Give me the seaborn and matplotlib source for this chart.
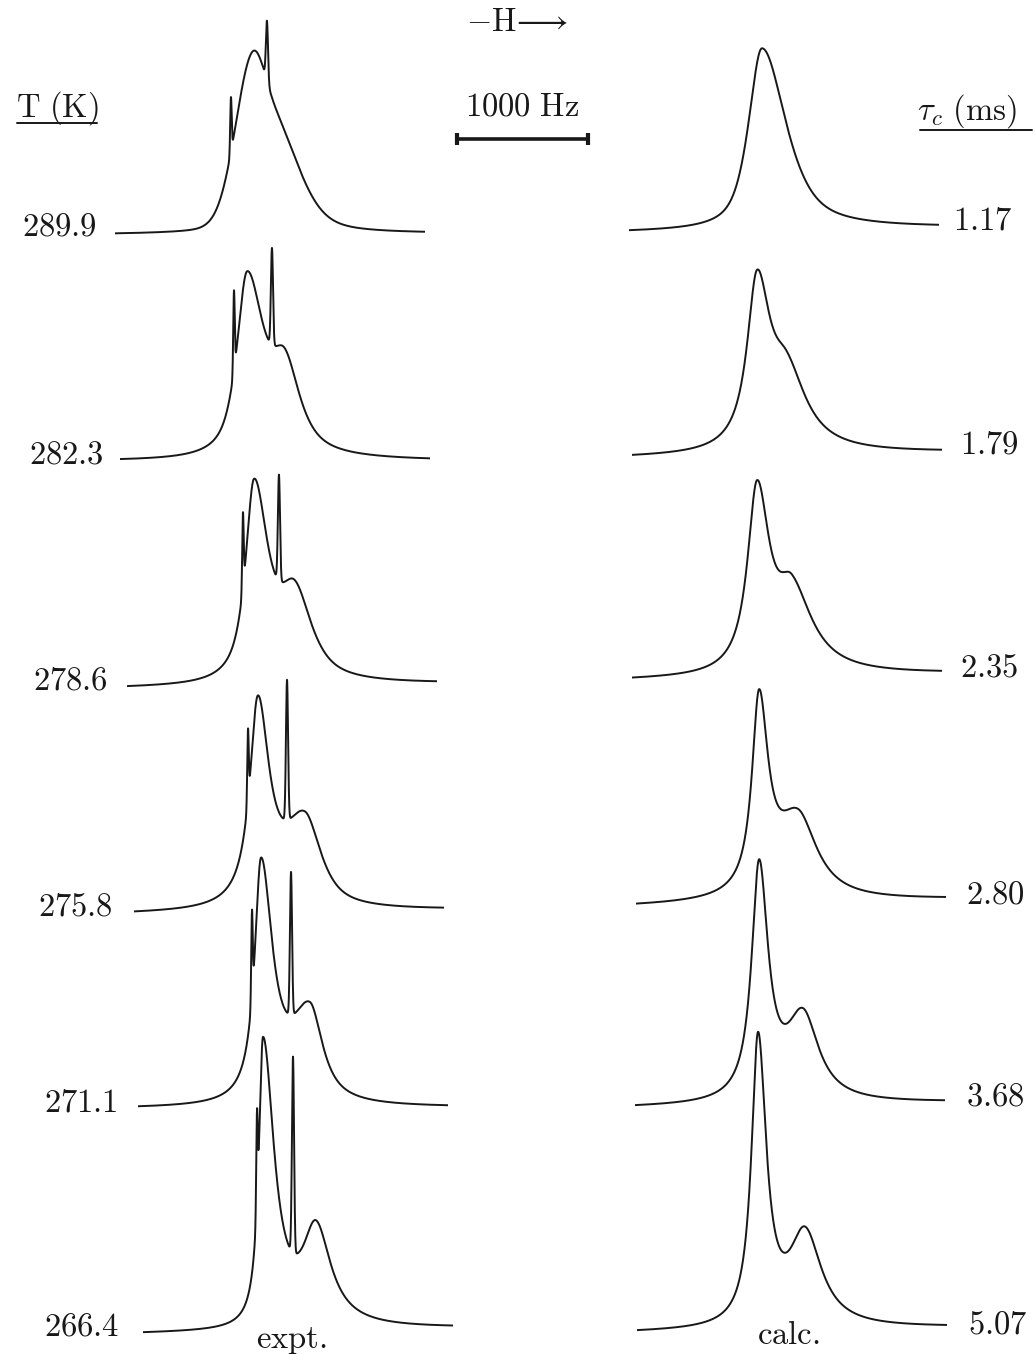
import numpy as np
import pandas as pd
import matplotlib
matplotlib.use("Agg")
import matplotlib.pyplot as plt
from matplotlib.lines import Line2D
import seaborn as sns

# ------------------------------------------------------------------
# Line-shape parameters (positions / half widths in Hz from the left
# end of each sweep, heights in arbitrary intensity units)
# ------------------------------------------------------------------
temperature_labels = ["289.9", "282.3", "278.6", "275.8", "271.1", "266.4"]
tau_labels = ["1.17", "1.79", "2.35", "2.80", "3.68", "5.07"]

# experimental traces (left column, top to bottom)
expt_main_pos = [1045, 970, 970, 945, 939, 916]
expt_main_height = [157, 180, 197, 202, 237, 287]
expt_main_hwhm_left = [153, 95, 80, 76, 60, 40]
expt_main_hwhm_right = [140, 153, 130, 107, 107, 103]
expt_main_lorentz = [0.1, 0.8, 0.9, 1.0, 1.0, 1.0]
expt_side_pos = [1285, 1260, 1282, 1305, 1313, 1321]
expt_side_height = [84, 78, 79, 84, 88, 93]
expt_side_hwhm_left = [168, 122, 137, 183, 168, 122]
expt_side_hwhm_right = [195, 137, 153, 145, 115, 137]
expt_side_lorentz = [0.6, 0.8, 0.8, 0.8, 0.9, 1.0]
ref_line1_pos = [885, 870, 885, 870, 870, 870]
ref_line1_height = [55, 80, 75, 71, 86, 92]
ref_line2_pos = [1160, 1160, 1160, 1168, 1168, 1145]
ref_line2_height = [60, 97, 106, 140, 143, 196]
expt_drift = [1, 0, 4, 4, 1, 5]

# calculated traces (right column, top to bottom)
calc_main_pos = [1015, 954, 954, 939, 947, 924]
calc_main_height = [182, 165, 182, 190, 232, 286]
calc_main_hwhm_left = [122, 92, 88, 65, 69, 61]
calc_main_hwhm_right = [218, 122, 115, 84, 84, 76]
calc_main_lorentz = [0.7, 1.0, 1.0, 1.0, 1.0, 1.0]
calc_side_pos = [1150, 1183, 1221, 1237, 1283, 1283]
calc_side_height = [0, 67, 74, 80, 83, 91]
calc_side_hwhm_left = [153, 153, 137, 198, 153, 145]
calc_side_hwhm_right = [153, 183, 191, 176, 145, 153]
calc_drift = [4, 5, 6, 7, 5, 5]

SWEEP_HZ = 2370
SCALE_BAR_HZ = 1000

# ------------------------------------------------------------------
# page layout (pixels on a 1035 x 1354 page)
# ------------------------------------------------------------------
W, H = 1035, 1354
PX_PER_HZ = 131 / 1000
left_x0 = [115, 120, 127, 134, 138, 143]
left_base = [234, 461, 686, 912, 1108, 1331]
right_x0 = [629, 632, 632, 636, 635, 637]
right_base = [230, 455, 677, 903, 1105, 1330]

INK = "#181818"

sns.set_theme(style="white")
plt.rcParams["mathtext.fontset"] = "cm"
plt.rcParams["font.family"] = ["DejaVu Serif", "DejaVu Sans"]

fig = plt.figure(figsize=(W / 100, H / 100), dpi=100)
fig.patch.set_facecolor("white")

freq = np.arange(0, SWEEP_HZ + 0.25, 0.5)


def band(f, pos, height, w_left, w_right, eta):
    w = np.where(f < pos, w_left, w_right)
    u2 = ((f - pos) / w) ** 2
    return height * (eta / (1 + u2) + (1 - eta) * np.exp(-np.log(2) * u2))


def sharp(f, pos, height, sigma):
    return height * np.exp(-0.5 * ((f - pos) / sigma) ** 2)


def trace_axes(x0, base):
    y_lo, y_hi = -10, 330
    ax = fig.add_axes([x0 / W, (H - base + y_lo) / H,
                       SWEEP_HZ * PX_PER_HZ / W, (y_hi - y_lo) / H])
    ax.set_xlim(0, SWEEP_HZ)
    ax.set_ylim(y_lo, y_hi)
    ax.axis("off")
    ax.patch.set_alpha(0)
    return ax


def draw(ax, signal):
    df = pd.DataFrame({"freq": freq, "signal": signal})
    sns.lineplot(data=df, x="freq", y="signal", ax=ax, color=INK,
                 linewidth=1.4, estimator=None, sort=False)
    ax.set_xlabel("")
    ax.set_ylabel("")


for i in range(6):
    # experimental
    s = band(freq, expt_main_pos[i], expt_main_height[i],
             expt_main_hwhm_left[i], expt_main_hwhm_right[i], expt_main_lorentz[i])
    s += band(freq, expt_side_pos[i], expt_side_height[i],
              expt_side_hwhm_left[i], expt_side_hwhm_right[i], expt_side_lorentz[i])
    s += sharp(freq, ref_line1_pos[i], ref_line1_height[i], 5.5)
    s += sharp(freq, ref_line2_pos[i], ref_line2_height[i], 8.0)
    s += expt_drift[i] * (freq / SWEEP_HZ - 0.5)
    draw(trace_axes(left_x0[i], left_base[i]), s)

    # calculated
    c = band(freq, calc_main_pos[i], calc_main_height[i],
             calc_main_hwhm_left[i], calc_main_hwhm_right[i], calc_main_lorentz[i])
    c += band(freq, calc_side_pos[i], calc_side_height[i],
              calc_side_hwhm_left[i], calc_side_hwhm_right[i], 1.0)
    c += calc_drift[i] * (freq / SWEEP_HZ - 0.5)
    draw(trace_axes(right_x0[i], right_base[i]), c)


def fx(px):
    return px / W


def fy(py):
    return 1 - py / H


FS = 23.5
left_label_right = [97, 104, 108, 113, 118, 119]
left_label_base = [235, 463, 690, 915, 1111, 1335]
right_label_left = [953, 960, 960, 966, 966, 968]
right_label_base = [229, 454, 676, 904, 1106, 1333]

for i in range(6):
    fig.text(fx(left_label_right[i]), fy(left_label_base[i]),
             r"$\mathrm{%s}$" % temperature_labels[i], fontsize=FS,
             ha="right", va="baseline", color=INK)
    fig.text(fx(right_label_left[i]), fy(right_label_base[i]),
             r"$\mathrm{%s}$" % tau_labels[i], fontsize=FS,
             ha="left", va="baseline", color=INK)

# column headings
fig.text(fx(16), fy(117), r"$\mathrm{T\ (K)}$", fontsize=FS, ha="left",
         va="baseline", color=INK)
fig.add_artist(Line2D([fx(17), fx(97)], [fy(123), fy(123)], color=INK, lw=1.4))
fig.text(fx(917), fy(120), r"$\tau_c\ \mathrm{(ms)}$", fontsize=FS, ha="left",
         va="baseline", color=INK)
fig.add_artist(Line2D([fx(920), fx(1032)], [fy(130), fy(130)], color=INK, lw=1.4))

fig.text(fx(517), fy(31), r"$-\mathrm{H}\!\longrightarrow$", fontsize=FS,
         ha="center", va="baseline", color=INK)
fig.text(fx(522), fy(116), r"$\mathrm{1000\ Hz}$", fontsize=FS,
         ha="center", va="baseline", color=INK)

# 1000 Hz scale bar on the same frequency scale as the sweeps
bar_ax = fig.add_axes([457 / W, (H - 139 - 10) / H,
                       SCALE_BAR_HZ * PX_PER_HZ / W, 20 / H])
bar_ax.set_xlim(0, SCALE_BAR_HZ)
bar_ax.set_ylim(-10, 10)
bar_ax.axis("off")
bar_ax.patch.set_alpha(0)
bar_ax.plot([0, SCALE_BAR_HZ], [0, 0], color=INK, lw=2.6, solid_capstyle="butt",
            clip_on=False)
bar_ax.plot([0, SCALE_BAR_HZ], [0, 0], ls="none", marker="|", ms=8, mew=3,
            color=INK, clip_on=False)

fig.text(fx(291), fy(1348), r"$\mathrm{expt.}$", fontsize=FS, ha="center",
         va="baseline", color=INK)
fig.text(fx(788), fy(1344), r"$\mathrm{calc.}$", fontsize=FS, ha="center",
         va="baseline", color=INK)

fig.savefig("out.png", dpi=100, facecolor="white")
